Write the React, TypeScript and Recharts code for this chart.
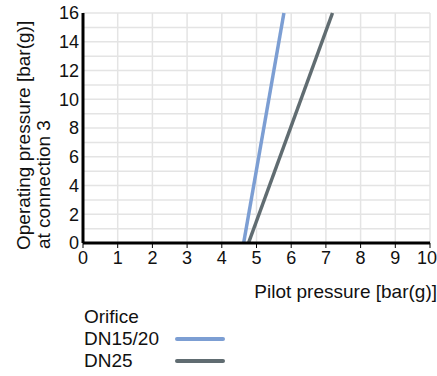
import React from 'react';
import { LineChart, Line, XAxis, YAxis, CartesianGrid, Legend } from 'recharts';

// pilot pressure [bar(g)] vs operating pressure [bar(g)]
const dn1520Pilot = [4.63, 5.79];
const dn1520Operating = [0, 16];
const dn25Pilot = [4.77, 7.19];
const dn25Operating = [0, 16];

const xTicks = [0, 1, 2, 3, 4, 5, 6, 7, 8, 9, 10];
const yTicks = [0, 1, 2, 3, 4, 5, 6, 7, 8, 9, 10, 11, 12, 13, 14, 15, 16];

const series = [
  { name: 'DN15/20', color: '#7c9ed3', pilot: dn1520Pilot, operating: dn1520Operating },
  { name: 'DN25', color: '#606c71', pilot: dn25Pilot, operating: dn25Operating },
];

const FONT = '"Liberation Sans", Arial, Helvetica, sans-serif';

const YTitle = ({ viewBox }: any) => {
  const bottom = viewBox.y + viewBox.height + 7;
  return (
    <g fontFamily={FONT} fontSize={19} fill="#111">
      <text x={30} y={bottom} transform={`rotate(-90 30 ${bottom})`} textAnchor="start">
        Operating pressure [bar(g)]
      </text>
      <text x={50} y={bottom - 1} transform={`rotate(-90 50 ${bottom - 1})`} textAnchor="start">
        at connection 3
      </text>
    </g>
  );
};

const XTitle = ({ viewBox }: any) => (
  <text
    x={viewBox.x + viewBox.width + 7}
    y={viewBox.y + 55}
    textAnchor="end"
    fontFamily={FONT}
    fontSize={19}
    fill="#111"
  >
    Pilot pressure [bar(g)]
  </text>
);

// last label is kept inside the frame, as in the original
const XTick = ({ x, y, payload }: any) => {
  const last = payload.value === xTicks[xTicks.length - 1];
  return (
    <text
      x={last ? x + 7 : x}
      y={y}
      dy="0.71em"
      textAnchor={last ? 'end' : 'middle'}
      fontFamily={FONT}
      fontSize={18}
      fill="#111"
    >
      {payload.value}
    </text>
  );
};

const OrificeLegend = () => (
  <div style={{ height: 70, fontFamily: FONT, fontSize: 19, color: '#111', lineHeight: '22px', paddingLeft: 84 }}>
    <div>Orifice</div>
    {series.map((s) => (
      <div key={s.name} style={{ display: 'flex', alignItems: 'center' }}>
        <span style={{ width: 91 }}>{s.name}</span>
        <span style={{ width: 50, height: 4, borderRadius: 2, background: s.color }} />
      </div>
    ))}
  </div>
);

export default function App() {
  return (
    <div style={{ position: 'absolute', left: 0, top: 0, background: '#fff' }}>
      <LineChart width={437} height={376} margin={{ top: 13, right: 7, left: 0, bottom: 0 }}>
        <CartesianGrid stroke="#e4e4e4" strokeWidth={1.5} />
        <XAxis
          type="number"
          dataKey="x"
          domain={[0, 10]}
          ticks={xTicks}
          interval={0}
          height={63}
          axisLine={{ stroke: '#000', strokeWidth: 3 }}
          tickLine={{ stroke: '#000', strokeWidth: 1 }}
          tickSize={5}
          tickMargin={3}
          tick={<XTick />}
          label={<XTitle />}
        />
        <YAxis
          type="number"
          domain={[0, 16]}
          ticks={yTicks}
          interval={0}
          width={83}
          axisLine={{ stroke: '#000', strokeWidth: 3 }}
          tickLine={false}
          tickSize={2}
          tickMargin={2}
          tick={{ fill: '#111', fontSize: 18, fontFamily: FONT }}
          tickFormatter={(v: number) => (v % 2 === 0 ? String(v) : '')}
          label={<YTitle />}
        />
        <Legend
          verticalAlign="bottom"
          align="left"
          content={<OrificeLegend />}
          wrapperStyle={{ left: 0, width: 437 }}
        />
        {series.map((s) => (
          <Line
            key={s.name}
            name={s.name}
            data={s.pilot.map((x, i) => ({ x, y: s.operating[i] }))}
            dataKey="y"
            type="linear"
            stroke={s.color}
            strokeWidth={3.5}
            dot={false}
            activeDot={false}
            isAnimationActive={false}
          />
        ))}
      </LineChart>
    </div>
  );
}
